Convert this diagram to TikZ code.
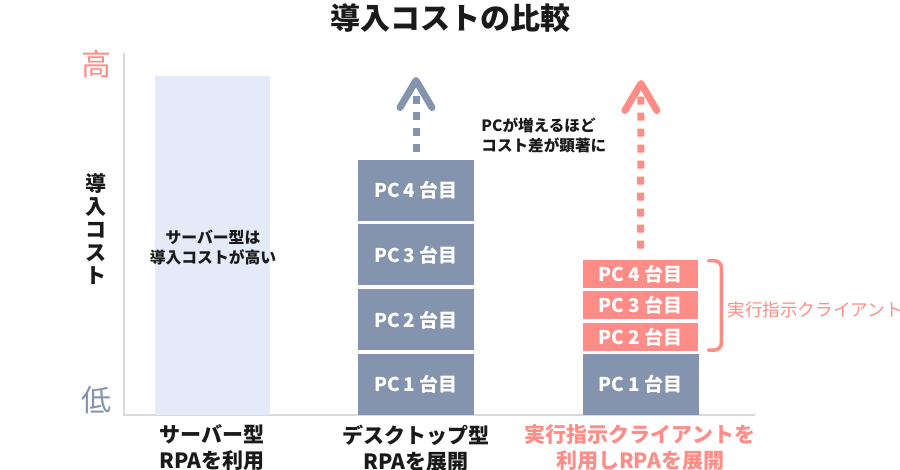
\documentclass[tikz,border=0pt]{standalone}
\usepackage{fontspec}
\setmainfont{Noto Sans CJK JP}
\usetikzlibrary{arrows.meta,positioning}
\definecolor{salmon}{HTML}{FF8C86}
\definecolor{slate}{HTML}{8494AE}
\definecolor{lav}{HTML}{E4EAF8}
\definecolor{ink}{HTML}{1A1A1A}
\definecolor{axisgray}{HTML}{D9D9D9}
\tikzset{
    title/.style =   {text=ink,
                     font=\fontsize{15}{17}\selectfont\bfseries,
                     inner sep=0pt},
    axis/.style =    {draw=axisgray,
                     line width=1pt},
    level/.style =   {font=\fontsize{15}{17}\selectfont,
                     inner sep=0pt},
    ylabel/.style =  {text=ink,
                     align=center,
                     font=\fontsize{10.5}{11.5}\selectfont\bfseries,
                     inner sep=0pt},
    server/.style =  {rectangle,
                     fill=lav,
                     minimum width=57.5pt,
                     minimum height=169.5pt,
                     inner sep=0pt},
    pc/.style =      {rectangle,
                     fill=slate,
                     text=white,
                     font=\fontsize{9.5}{10}\selectfont\bfseries,
                     minimum width=58pt,
                     minimum height=30.5pt,
                     inner sep=0pt},
    pcred/.style =   {pc,
                     fill=salmon,
                     minimum width=57.5pt,
                     minimum height=14pt},
    uparrow/.style = {line width=3.5pt,
                     dash pattern=on 4pt off 4pt,
                     -{Straight Barb[length=13.5pt,width=16pt,line width=3.5pt,round]}},
    bracket/.style = {draw=salmon,
                     line width=1.8pt,
                     line cap=round,
                     rounded corners=3.5pt},
    note/.style =    {text=ink,
                     align=left,
                     font=\fontsize{7.8}{10}\selectfont\bfseries,
                     inner sep=0pt},
    caption/.style = {text=ink,
                     align=center,
                     font=\fontsize{10.5}{13}\selectfont\bfseries,
                     inner sep=0pt}
}

\begin{document}
\begin{tikzpicture}[x=0.5pt,y=-0.5pt]
    \useasboundingbox (0,0) rectangle (900,470);
    \node[title]            (T)  at (450,18)    {導入コストの比較};

    % axes
    \coordinate (O)    at (124,415);
    \coordinate (Ytop) at (124,53);
    \coordinate (Xend) at (755,415);
    \draw[axis] (Ytop) -- (O) -- (Xend);
    \node[level,text=salmon] (Hi) at (96,64)     {高};
    \node[level,text=slate]  (Lo) at (96,400)    {低};
    \node[ylabel]            (Y)  at (96,229)    {導\\入\\コ\\ス\\ト};

    % server type
    \node[server]           (S)  at (212.5,245.5) {};
    \node[note,align=center,font=\fontsize{7.9}{10}\selectfont\bfseries] (SL) at (213,247) {サーバー型は\\導入コストが高い};

    % desktop type
    \node[pc]               (D1) at (416,384.5)   {PC\,1 台目};
    \node[pc]               (D2) [above=1.5pt of D1] {PC\,2 台目};
    \node[pc]               (D3) [above=1.5pt of D2] {PC\,3 台目};
    \node[pc]               (D4) [above=1.5pt of D3] {PC\,4 台目};
    \coordinate (Dtip) at (416,77);
    \draw[uparrow,draw=slate,shorten <=3.5pt] (D4.north) -- (Dtip);
    \node[note,anchor=west] (N)  at (481,135)     {PCが増えるほど\\コスト差が顕著に};

    % client type
    \node[pc]               (R1) at (640.5,384.5) {PC 1 台目};
    \node[pcred]            (R2) [above=1.25pt of R1] {PC 2 台目};
    \node[pcred]            (R3) [above=1.25pt of R2] {PC 3 台目};
    \node[pcred]            (R4) [above=1.25pt of R3] {PC 4 台目};
    \coordinate (Rtip) at (641,80);
    \draw[uparrow,draw=salmon,shorten <=5.5pt] (R4.north) -- (Rtip);
    \draw[bracket] ([xshift=5pt,yshift=-0.5pt]R4.north east) -- ++(6.5pt,0)
                   |- ([xshift=5pt,yshift=0.5pt]R2.south east);
    \node[note,anchor=west,text=salmon,font=\fontsize{8.8}{10}\selectfont] (K) at (727,310) {実行指示クライアント};

    % captions
    \node[caption]              (C1) at (212,448) {サーバー型\\RPAを利用};
    \node[caption]              (C2) at (416,448) {デスクトップ型\\RPAを展開};
    \node[caption,text=salmon]  (C3) at (640,448) {実行指示クライアントを\\利用しRPAを展開};
\end{tikzpicture}
\end{document}
